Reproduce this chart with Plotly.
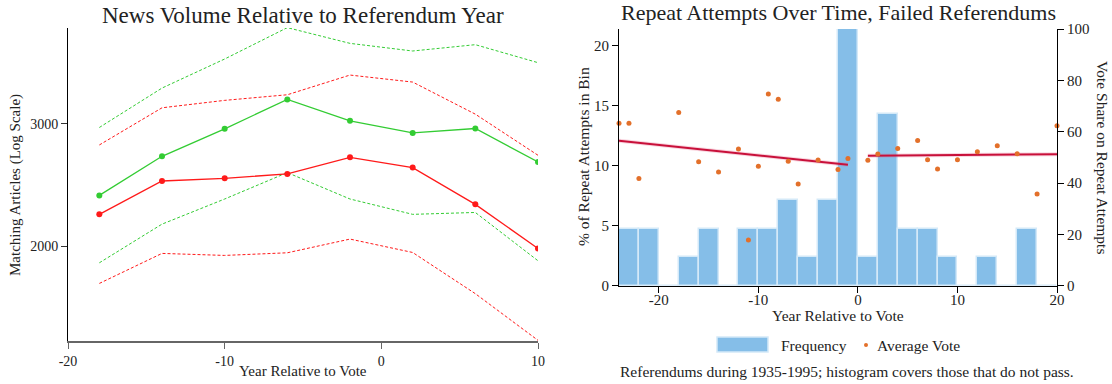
import plotly.graph_objects as go
import numpy as np

W, H = 1112, 384

# ---------------- Left chart data ----------------
years_left = [-18, -14, -10, -6, -2, 2, 6, 10]
green_mean = [2366, 2694, 2951, 3253, 3030, 2911, 2954, 2644]
green_hi = [2964, 3378, 3720, 4128, 3918, 3820, 3901, 3675]
green_lo = [1892, 2151, 2338, 2552, 2338, 2222, 2236, 1905]
red_mean = [2222, 2482, 2504, 2541, 2685, 2595, 2297, 1984]
red_hi = [2797, 3164, 3243, 3304, 3527, 3446, 3098, 2703]
red_lo = [1767, 1952, 1939, 1956, 2047, 1958, 1708, 1463]
left_yticks = [2000, 3000]
left_xticks = [-20, -10, 0, 10]

# ---------------- Right chart data ----------------
bin_starts = list(range(-24, 20, 2))
bin_pct = [4.76, 4.76, 0, 2.38, 4.76, 0, 4.76, 4.76, 7.14, 2.38, 7.14, 21.43,
           2.38, 14.29, 4.76, 4.76, 2.38, 0, 2.38, 0, 4.76, 0]
vote_x = [-24, -23, -22, -18, -16, -14, -12, -11, -10, -9, -8, -7, -6, -4, -2, -1,
          1, 2, 4, 6, 7, 8, 10, 12, 14, 16, 18, 20]
vote_y = [63.3, 63.3, 41.8, 67.5, 48.3, 44.3, 53.3, 17.8, 46.5, 74.7, 72.6, 48.5,
          39.6, 49.0, 45.3, 49.6, 48.9, 51.3, 53.4, 56.6, 49.1, 45.5, 49.1, 52.2,
          54.5, 51.4, 35.7, 62.3]
fit_pre_x = [-24, -1]
fit_pre_y = [56.5, 47.1]
fit_post_x = [1, 20]
fit_post_y = [50.6, 51.2]
right_xticks = [-20, -10, 0, 10, 20]
right_yticks = [0, 5, 10, 15, 20]
right_y2ticks = [0, 20, 40, 60, 80, 100]

FONT = "Liberation Serif"
GREEN = "#33cc33"
RED = "#ff1a1a"
BLUE = "#85bee8"
ORANGE = "#e3702a"
CRIMSON = "#c8103a"


def px_x(p):
    return p / W


def px_y(p):
    return 1 - p / H


fig = go.Figure()

# left chart lines
dash = "3px,2px"
for ys, col in [(green_hi, GREEN), (green_lo, GREEN), (red_hi, RED), (red_lo, RED)]:
    fig.add_trace(go.Scatter(x=years_left, y=ys, mode="lines",
                             line=dict(color=col, width=1, dash=dash),
                             xaxis="x", yaxis="y", showlegend=False))
for ys, col in [(green_mean, GREEN), (red_mean, RED)]:
    fig.add_trace(go.Scatter(x=years_left, y=ys, mode="lines+markers",
                             line=dict(color=col, width=1.3),
                             marker=dict(color=col, size=6),
                             xaxis="x", yaxis="y", showlegend=False))

# right chart
bin_centers = [b + 1 for b in bin_starts]
fig.add_trace(go.Bar(x=bin_centers, y=bin_pct, width=[2] * len(bin_starts),
                     marker=dict(color=BLUE, line=dict(color="#d4e9f8", width=1.5)),
                     xaxis="x2", yaxis="y2", showlegend=False))
for fx, fy in [(fit_pre_x, fit_pre_y), (fit_post_x, fit_post_y)]:
    fig.add_trace(go.Scatter(x=fx, y=fy, mode="lines",
                             line=dict(color="rgba(230,90,130,0.25)", width=4),
                             xaxis="x2", yaxis="y3", showlegend=False))
    fig.add_trace(go.Scatter(x=fx, y=fy, mode="lines",
                             line=dict(color=CRIMSON, width=2),
                             xaxis="x2", yaxis="y3", showlegend=False))
fig.add_trace(go.Scatter(x=vote_x, y=vote_y, mode="markers",
                         marker=dict(color=ORANGE, size=5),
                         xaxis="x2", yaxis="y3", showlegend=False, cliponaxis=False))

tickfont = dict(family=FONT, size=14, color="#222")
tickfont_r = dict(family=FONT, size=15, color="#222")

common = dict(showline=True, linewidth=1, ticks="outside", ticklen=6,
              showgrid=False, zeroline=False, automargin=False)

fig.update_layout(
    width=W, height=H,
    margin=dict(l=0, r=0, t=0, b=0),
    paper_bgcolor="white", plot_bgcolor="white",
    font=dict(family=FONT, color="#222"),
    xaxis=dict(domain=[px_x(68), px_x(538)], range=[-20, 10], tickvals=left_xticks,
               ticktext=[str(v) for v in left_xticks],
               tickfont=tickfont, anchor="y",
               **{**common, "linecolor": "#666", "linewidth": 2, "tickcolor": "#666"}),
    yaxis=dict(domain=[px_y(341), px_y(28)], type="log", range=[3.1643, 3.6152],
               tickvals=left_yticks, ticktext=[str(v) for v in left_yticks],
               tickfont=tickfont, anchor="x",
               **{**common, "linecolor": "black", "tickcolor": "#333"}),
    xaxis2=dict(domain=[px_x(619), px_x(1057)], range=[-24, 20], tickvals=right_xticks,
                ticktext=[str(v) for v in right_xticks],
                tickfont=tickfont_r, anchor="y2", ticklabelstandoff=-6,
                **{**common, "linecolor": "black", "tickcolor": "black"}),
    yaxis2=dict(domain=[px_y(285.7), px_y(29)], range=[0, 21.4], tickvals=right_yticks,
                ticktext=[str(v) for v in right_yticks],
                tickfont=tickfont_r, anchor="x2",
                **{**common, "linecolor": "black", "tickcolor": "black"}),
    yaxis3=dict(overlaying="y2", side="right", anchor="x2", range=[0, 100],
                tickvals=right_y2ticks, ticktext=[str(v) for v in right_y2ticks],
                tickfont=tickfont_r,
                **{**common, "linecolor": "black", "tickcolor": "black"}),
    bargap=0,
    showlegend=False,
)

ann = []


def add_text(text, x, y, size, angle=0, xanchor="center"):
    ann.append(dict(text=text, x=px_x(x), y=px_y(y), xref="paper", yref="paper",
                    showarrow=False, textangle=angle, xanchor=xanchor, yanchor="middle",
                    font=dict(family=FONT, size=size, color="#222")))


add_text("News Volume Relative to Referendum Year", 303, 15, 23)
add_text("Year Relative to Vote", 303, 371, 15)
add_text("Matching Articles (Log Scale)", 16, 185, 15, angle=-90)

add_text("Repeat Attempts Over Time, Failed Referendums", 838, 13, 22)
add_text("Year Relative to Vote", 838, 315, 15.5)
add_text("% of Repeat Attempts in Bin", 583, 157, 15.5, angle=-90)
add_text("Vote Share on Repeat Attempts", 1103, 157, 15.5, angle=90)

# legend (manual)
add_text("Frequency", 779, 345, 15.5, xanchor="left")
add_text("Average Vote", 875, 345, 15.5, xanchor="left")
add_text("Referendums during 1935-1995; histogram covers those that do not pass.",
         847, 371, 15.5)

shapes = [
    dict(type="rect", xref="paper", yref="paper", x0=px_x(717), x1=px_x(768),
         y0=px_y(352), y1=px_y(337), fillcolor=BLUE,
         line=dict(color="#d4e9f8", width=1.5)),
    dict(type="circle", xref="paper", yref="paper", x0=px_x(864), x1=px_x(868),
         y0=px_y(347), y1=px_y(343), fillcolor=ORANGE, line=dict(width=0)),
]
fig.update_layout(annotations=ann, shapes=shapes)

fig.write_html("out.html", config={"displayModeBar": False},
               post_script="document.body.style.margin='0px';document.body.style.overflow='hidden';")
